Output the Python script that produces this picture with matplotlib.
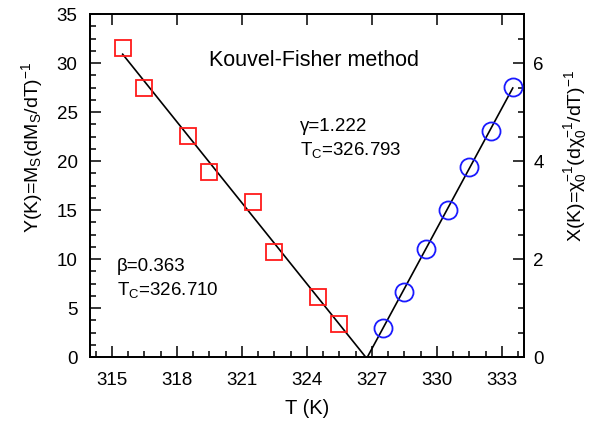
import matplotlib.pyplot as plt
from matplotlib.ticker import MultipleLocator

plt.rcParams['font.family'] = ['Liberation Sans', 'DejaVu Sans']
plt.rcParams['mathtext.fontset'] = 'custom'
plt.rcParams['mathtext.rm'] = 'Liberation Sans'
plt.rcParams['mathtext.it'] = 'Liberation Sans:italic'

# Data
# left scale: Y(K) from magnetization (red squares)
T_left = [315.5, 316.5, 318.5, 319.5, 321.5, 322.5, 324.5, 325.5]
Y_left = [31.5, 27.5, 22.6, 18.9, 15.8, 10.7, 6.1, 3.4]
fit_T_left = [315.5, 326.71]
fit_Y_left = [30.9, 0.0]

# right scale: X(K) from susceptibility (blue circles)
T_right = [327.5, 328.5, 329.5, 330.5, 331.5, 332.5, 333.5]
X_right = [0.59, 1.32, 2.20, 3.00, 3.88, 4.61, 5.52]
fit_T_right = [326.793, 333.5]
fit_X_right = [0.0, 5.49]

fig = plt.figure(figsize=(5.93, 4.25), dpi=100)
ax1 = fig.add_axes([0.152, 0.16, 0.731, 0.807])
ax2 = ax1.twinx()

# left data + fit
ax1.plot(fit_T_left, fit_Y_left, color='black', lw=1.2, zorder=2)
ax1.plot(T_left, Y_left, ls='none', marker='s', ms=12, mfc='none',
         mec='#ff1a1a', mew=1.3, zorder=3)

# right data + fit
ax2.plot(fit_T_right, fit_X_right, color='black', lw=1.2, zorder=2)
ax2.plot(T_right, X_right, ls='none', marker='o', ms=13, mfc='none',
         mec='#1a1aff', mew=1.3, zorder=3)

ax1.set_xlim(314, 334)
ax1.set_ylim(0, 35)
ax2.set_ylim(0, 7)

ax1.xaxis.set_major_locator(MultipleLocator(3))
ax1.xaxis.set_minor_locator(MultipleLocator(0.75))
ax1.yaxis.set_major_locator(MultipleLocator(5))
ax1.yaxis.set_minor_locator(MultipleLocator(1.25))
ax2.yaxis.set_major_locator(MultipleLocator(2))
ax2.yaxis.set_minor_locator(MultipleLocator(0.5))

ax1.tick_params(axis='x', which='major', direction='in', length=8, width=1.1,
                labelsize=13.5, pad=11, top=True)
ax1.tick_params(axis='x', which='minor', direction='in', length=4, width=1.1,
                top=False)
ax1.tick_params(axis='y', which='major', direction='in', length=8, width=1.1,
                labelsize=13.5, pad=9, right=False)
ax1.tick_params(axis='y', which='minor', direction='in', length=4, width=1.1,
                right=False)
ax2.tick_params(axis='y', which='major', direction='in', length=8, width=1.1,
                labelsize=13.5, pad=7)
ax2.tick_params(axis='y', which='minor', direction='in', length=4, width=1.1)

for sp in ax1.spines.values():
    sp.set_linewidth(1.3)
for sp in ax2.spines.values():
    sp.set_linewidth(1.3)

ax1.set_xlabel('T (K)', fontsize=14.5, labelpad=7)
ax1.set_ylabel(r'Y(K)=M$_\mathregular{S}$(dM$_\mathregular{S}$/dT)$^\mathregular{-1}$',
               fontsize=14)
ax2.set_ylabel(r'X(K)=χ$_\mathregular{0}^\mathregular{-1}$(dχ$_\mathregular{0}^\mathregular{-1}$/dT)$^\mathregular{-1}$',
               fontsize=14)
# label centres as in the reference (axes fraction)
ax1.yaxis.label.set_va('center')
ax2.yaxis.label.set_va('center')
ax1.yaxis.set_label_coords(-0.134, 0.612)
ax2.yaxis.set_label_coords(1.119, 0.586)

# annotations
ax1.text(319.5, 30.3, 'Kouvel-Fisher method', fontsize=15.5, va='center')
ax1.text(323.7, 23.5, 'γ=1.222', fontsize=13.5, va='center')
ax1.text(323.7, 21.1, r'T$_\mathregular{C}$=326.793', fontsize=13.5, va='center')
ax1.text(315.25, 9.2, 'β=0.363', fontsize=13.5, va='center')
ax1.text(315.25, 6.8, r'T$_\mathregular{C}$=326.710', fontsize=13.5, va='center')

fig.savefig('out.png', dpi=100)
